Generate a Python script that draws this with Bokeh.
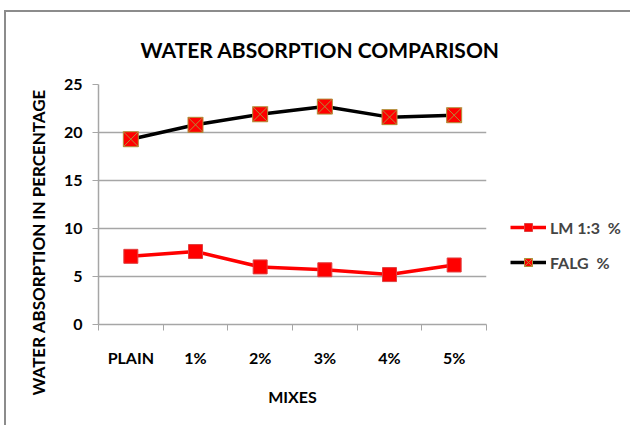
from bokeh.plotting import figure
from bokeh.layouts import row
from bokeh.models import FixedTicker, Legend, LegendItem, ColumnDataSource, Title, Range1d
from bokeh.embed import file_html
from bokeh.resources import INLINE

# Mix designations and measured water absorption (%)
mixes = ["PLAIN", "1%", "2%", "3%", "4%", "5%"]
lm_13 = [7.1, 7.6, 6.0, 5.7, 5.2, 6.2]
falg = [19.3, 20.8, 21.9, 22.7, 21.6, 21.8]
y_ticks = [0, 5, 10, 15, 20, 25]

FONT = "Lato"
GRID = "#a6a6a6"
EDGE = "2px solid #8c8c8c"

LM_LINE = dict(line_color="#ff0000", line_width=3.5)
LM_MARK = dict(marker="square", size=14, fill_color="#ff0000", line_color="#e04040", line_width=1)
FA_LINE = dict(line_color="black", line_width=3.5)
FA_MARK = dict(marker="square_x", size=15, fill_color="#ff0000", line_color="#b0903a", line_width=1)

# categories placed at slot centres; slot boundaries carry the tick marks
x_pos = [i + 0.5 for i in range(len(mixes))]
src = ColumnDataSource(dict(x=x_pos, mix=mixes, lm=lm_13, falg=falg))

p = figure(frame_width=386, frame_height=238, x_range=(0, len(mixes)), y_range=(0, 25),
           output_backend="svg", toolbar_location=None,
           min_border_left=92, min_border_right=24,
           min_border_top=72, min_border_bottom=103,
           margin=(10, 0, 0, 4))
p.styles = {"border-left": EDGE, "border-top": EDGE}
p.outline_line_color = None
p.border_fill_color = "white"

# x axis: boundary ticks, labels at slot centres
p.xaxis.ticker = FixedTicker(ticks=x_pos, minor_ticks=list(range(len(mixes) + 1)))
p.xaxis.major_label_overrides = {x: m for x, m in zip(x_pos, mixes)}
p.xaxis.major_tick_line_color = None
p.xaxis.minor_tick_line_color = GRID
p.xaxis.minor_tick_out = 6
p.xaxis.minor_tick_in = 0
p.xaxis.axis_line_color = GRID
p.xaxis.axis_line_width = 1.5
p.xaxis.major_label_standoff = 17
p.xaxis.major_label_text_font = FONT
p.xaxis.major_label_text_font_style = "bold"
p.xaxis.major_label_text_font_size = "16px"
p.xaxis.major_label_text_color = "black"
p.xaxis.axis_label = "MIXES"
p.xaxis.axis_label_text_font = FONT
p.xaxis.axis_label_text_font_style = "bold"
p.xaxis.axis_label_text_font_size = "16px"
p.xaxis.axis_label_text_color = "black"
p.xaxis.axis_label_standoff = 17

# y axis
p.yaxis.ticker = FixedTicker(ticks=y_ticks)
p.yaxis.minor_tick_line_color = None
p.yaxis.major_tick_line_color = GRID
p.yaxis.major_tick_out = 6
p.yaxis.major_tick_in = 0
p.yaxis.axis_line_color = GRID
p.yaxis.axis_line_width = 1.5
p.yaxis.major_label_standoff = 10
p.yaxis.major_label_text_font = FONT
p.yaxis.major_label_text_font_style = "bold"
p.yaxis.major_label_text_font_size = "16px"
p.yaxis.major_label_text_color = "black"

p.xgrid.grid_line_color = None
p.ygrid.ticker = FixedTicker(ticks=y_ticks[1:])
p.ygrid.grid_line_color = GRID
p.ygrid.grid_line_width = 1.5

# series
p.line("x", "lm", source=src, **LM_LINE)
p.scatter("x", "lm", source=src, **LM_MARK)
p.line("x", "falg", source=src, **FA_LINE)
p.scatter("x", "falg", source=src, **FA_MARK)

# chart title and vertical axis caption
p.add_layout(Title(text="WATER ABSORPTION COMPARISON", align="left", offset=42,
                   vertical_align="top", standoff=41, text_font=FONT,
                   text_font_style="bold", text_font_size="21px",
                   text_color="black"), "above")
p.add_layout(Title(text="WATER ABSORPTION IN PERCENTAGE", align="left", offset=-71,
                   standoff=24, text_font=FONT, text_font_style="bold",
                   text_font_size="17px", text_color="black"), "left")

# legend panel to the right of the chart; its renderers hold no visible points
leg = figure(width=122, height=413, x_range=Range1d(0, 1), y_range=Range1d(0, 1),
             output_backend="svg", toolbar_location=None,
             x_axis_location=None, y_axis_location=None,
             min_border=0, margin=(10, 0, 0, 0))
leg.styles = {"border-top": EDGE}
leg.outline_line_color = None
leg.grid.visible = False
nan = [float("nan")]
k_lm = [leg.line(nan, nan, **LM_LINE), leg.scatter(nan, nan, **LM_MARK)]
k_fa = [leg.line(nan, nan, **FA_LINE), leg.scatter(nan, nan, **FA_MARK)]
legend = Legend(items=[LegendItem(label="LM 1:3  %", renderers=k_lm),
                       LegendItem(label="FALG  %", renderers=k_fa)],
                location=(2, 50), border_line_color=None, background_fill_alpha=0,
                glyph_width=36, glyph_height=20, label_text_font=FONT,
                label_text_font_style="bold", label_text_font_size="16px",
                spacing=15, label_standoff=4, padding=0, margin=0)
leg.add_layout(legend, "center")

open("out.html", "w").write(file_html(row(p, leg), INLINE))
